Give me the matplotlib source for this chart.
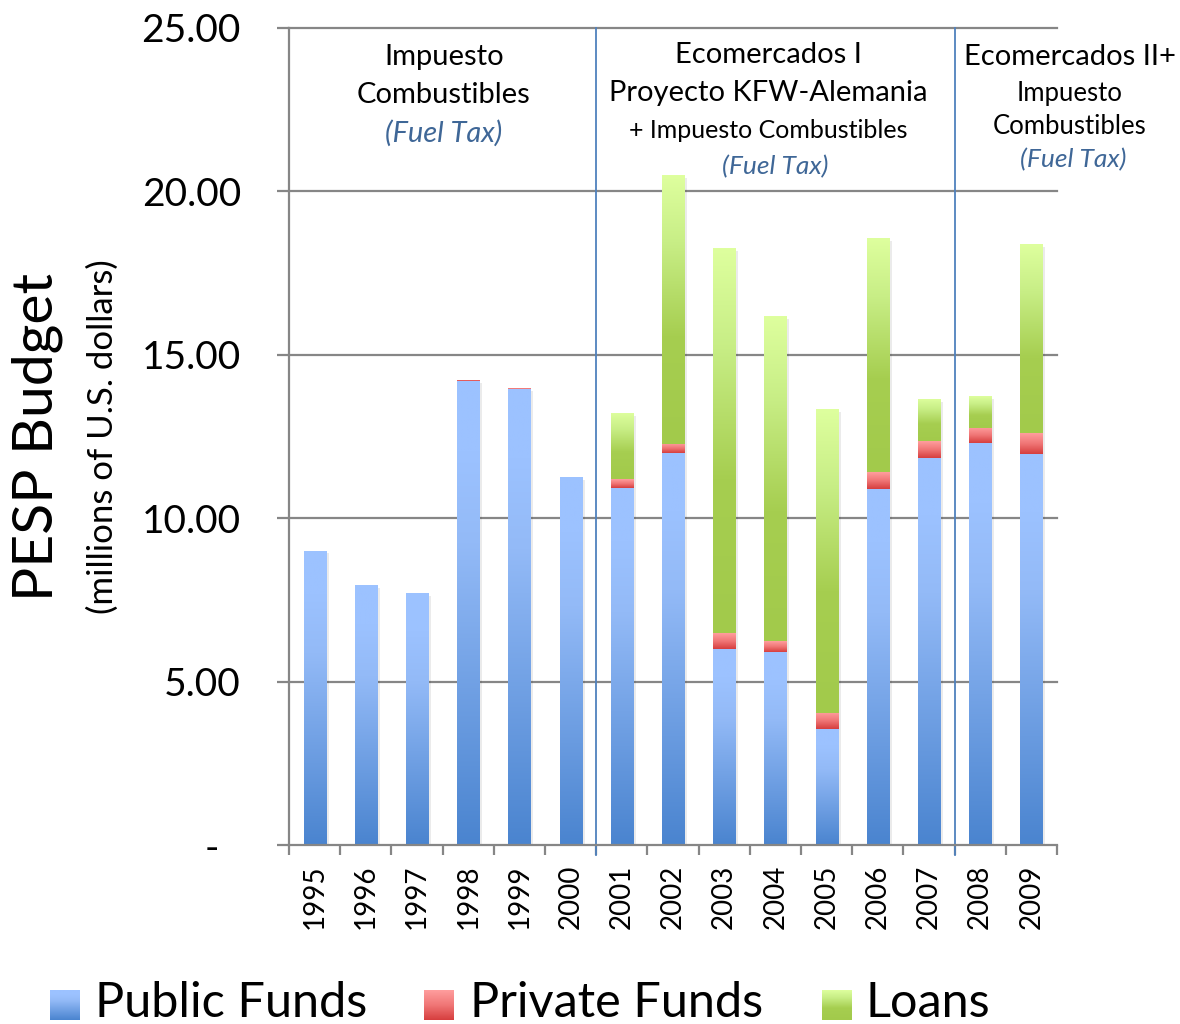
import numpy as np
import matplotlib
matplotlib.use('Agg')
import matplotlib.pyplot as plt
from matplotlib.colors import LinearSegmentedColormap
from matplotlib.patches import Rectangle
import matplotlib.transforms as mtransforms

plt.rcParams['font.family'] = ['Lato', 'DejaVu Sans']

years = ['1995', '1996', '1997', '1998', '1999', '2000', '2001', '2002',
         '2003', '2004', '2005', '2006', '2007', '2008', '2009']
public = [9.00, 7.95, 7.70, 14.19, 13.95, 11.26, 10.93, 12.00, 6.01, 5.92,
          3.55, 10.90, 11.85, 12.31, 11.97]
private = [0.00, 0.00, 0.00, 0.04, 0.03, 0.00, 0.27, 0.28, 0.48, 0.33,
           0.49, 0.52, 0.51, 0.46, 0.64]
loans = [0.00, 0.00, 0.00, 0.00, 0.00, 0.00, 2.02, 8.22, 11.78, 9.94,
         9.30, 7.15, 1.29, 0.97, 5.78]
yticks = [0, 5, 10, 15, 20, 25]
ytick_labels = ['-', '5.00', '10.00', '15.00', '20.00', '25.00']
series_names = ['Public Funds', 'Private Funds', 'Loans']

W, H = 1180, 1024
fig = plt.figure(figsize=(W / 100, H / 100), dpi=100)
ax = fig.add_axes([289 / W, 1 - 845 / H, 768 / W, 817 / H])

cm_blue = LinearSegmentedColormap.from_list(
    'b', [(0, '#4A84CF'), (0.65, '#93BAF7'), (0.85, '#9CC2FF'), (1, '#9CC2FF')])
cm_red = LinearSegmentedColormap.from_list(
    'r', [(0, '#D63E3E'), (0.5, '#F07676'), (1, '#FF9E9E')])
cm_green = LinearSegmentedColormap.from_list(
    'g', [(0, '#A2CA4B'), (0.4, '#A6CE50'), (0.75, '#C8EE86'), (1, '#DEFF9E')])

x = np.arange(len(years))
bw = 0.43
pub = np.array(public)
pri = np.array(private)
lo = np.array(loans)

# faint shadow
tot = pub + pri + lo
ax.bar(x + 0.06, tot, width=bw, bottom=-0.08, color='#000000', alpha=0.08,
       zorder=2, linewidth=0)

b1 = ax.bar(x, pub, width=bw, color='#7FA9EA', zorder=3, linewidth=0)
b2 = ax.bar(x, pri, width=bw, bottom=pub, color='#E86060', zorder=3, linewidth=0)
b3 = ax.bar(x, lo, width=bw, bottom=pub + pri, color='#BEE37A', zorder=3, linewidth=0)

grad = np.linspace(0, 1, 256).reshape(-1, 1)


def grad_fill(axis, patch, cmap):
    bb = patch.get_bbox()
    if bb.height <= 0:
        return
    im = axis.imshow(grad, cmap=cmap, origin='lower', aspect='auto',
                     extent=[bb.x0, bb.x1, bb.y0, bb.y1], zorder=4,
                     interpolation='bilinear')
    im.set_clip_path(patch)


for bars, cm in ((b1, cm_blue), (b2, cm_red), (b3, cm_green)):
    for p in bars:
        grad_fill(ax, p, cm)

ax.set_xlim(-0.5, len(years) - 0.5)
ax.set_ylim(0, 25)

gcol = '#868686'
for yv in yticks[1:]:
    ax.axhline(yv, color=gcol, lw=1.6, zorder=1, clip_on=False)

# section separators
for sx in (5.5, 12.5):
    ax.plot([sx, sx], [-0.3, 25], color='#4F81BD', lw=1.3, zorder=5, clip_on=False)

for s in ('top', 'right'):
    ax.spines[s].set_visible(False)
for s in ('left', 'bottom'):
    ax.spines[s].set_color(gcol)
    ax.spines[s].set_linewidth(1.6)
    ax.spines[s].set_zorder(6)

ax.set_yticks(yticks)
ax.set_yticklabels(ytick_labels, fontsize=28)
ax.tick_params(axis='y', direction='out', length=8.6, width=1.6, color=gcol, pad=26)
lab0 = ax.get_yticklabels()[0]
lab0.set_transform(lab0.get_transform() + mtransforms.ScaledTranslation(-22 / 100, 0, fig.dpi_scale_trans))

ax.set_xticks(x)
ax.set_xticklabels(years, rotation=90, fontsize=20, va='top')
ax.tick_params(axis='x', which='major', length=0, pad=14)
ax.set_xticks(np.arange(-0.5, len(years), 1), minor=True)
ax.tick_params(axis='x', which='minor', direction='out', length=7.5, width=1.6, color=gcol)

# y labels
fig.text(37 / W, 1 - 437 / H, 'PESP Budget', rotation=90, fontsize=41,
         ha='center', va='center')
fig.text(103 / W, 1 - 437 / H, '(millions of U.S. dollars)', rotation=90,
         fontsize=25, ha='center', va='center')

blue_txt = '#3F6797'


def t(px, py, s, size, italic=False, color='black'):
    fig.text(px / W, 1 - py / H, s, fontsize=size, ha='center', va='center',
             style='italic' if italic else 'normal', color=color)


t(444, 57, 'Impuesto', 21)
t(444, 95, 'Combustibles', 21)
t(444, 133, '(Fuel Tax)', 21, True, blue_txt)
t(768, 55, 'Ecomercados I', 21)
t(768, 93, 'Proyecto KFW-Alemania', 21)
t(768, 131, '+ Impuesto Combustibles', 18)
t(775, 167, '(Fuel Tax)', 19, True, blue_txt)
t(1070, 57, 'Ecomercados II+', 21)
t(1070, 93, 'Impuesto', 18.5)
t(1070, 126, 'Combustibles', 18.5)
t(1073, 160, '(Fuel Tax)', 19, True, blue_txt)

# legend (pixel-coordinate overlay)
lax = fig.add_axes([0, 0, 1, 1], zorder=-1)
lax.set_xlim(0, W)
lax.set_ylim(H, 0)
lax.axis('off')
leg_items = [(50, 95, cm_blue), (424, 470, cm_red), (822, 866, cm_green)]
for (sx, tx, cm), name in zip(leg_items, series_names):
    lax.imshow(grad, cmap=cm, origin='lower', aspect='auto',
               extent=[sx, sx + 30, 1020, 990], interpolation='bilinear')
    lax.text(tx, 1003, name, fontsize=35, ha='left', va='center')
lax.set_xlim(0, W)
lax.set_ylim(H, 0)

fig.savefig('out.png', dpi=100)
